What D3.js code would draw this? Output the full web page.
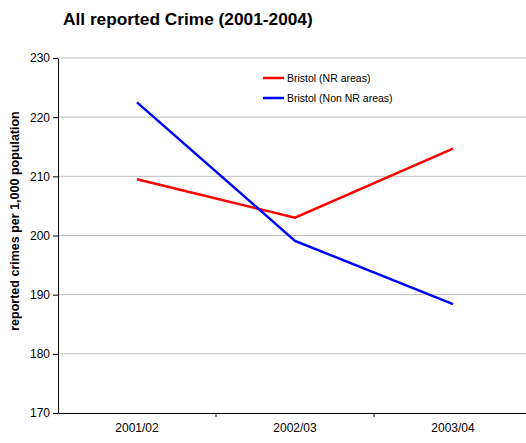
<!DOCTYPE html>
<html>
<head>
<meta charset="utf-8">
<script src="https://cdn.jsdelivr.net/npm/d3@7"></script>
<style>
  body { margin: 0; background: #fff; }
  svg { display: block; font-family: "Liberation Sans", Arial, sans-serif; }
</style>
</head>
<body>
<script>
// chart data
let years = ["2001/02", "2002/03", "2003/04"]
let nrAreas = [209.5, 203.0, 214.7]
let nonNrAreas = [222.5, 199.1, 188.4]
let yTicks = [170, 180, 190, 200, 210, 220, 230]
let seriesNames = ["Bristol (NR areas)", "Bristol (Non NR areas)"]
let seriesColors = ["#ff0000", "#0000ff"]

let width = 526
let height = 443
let plotLeft = 58
let plotTop = 58
let plotBottom = 413
let plotRight = 532

let svg = d3.select('body')
    .append('svg')
    .attr('width', width)
    .attr('height', height)

// title
svg.append('text')
    .attr('x', 63)
    .attr('y', 25)
    .style('font-size', '17.3px')
    .style('font-weight', 'bold')
    .text('All reported Crime (2001-2004)')

let xScale = d3.scaleBand()
    .domain(years)
    .range([plotLeft, plotRight])

let yScale = d3.scaleLinear()
    .domain([170, 230])
    .range([plotBottom, plotTop])

// gridlines
svg.append('g')
    .selectAll('line')
    .data(yTicks.slice(1))
    .enter()
    .append('line')
    .attr('x1', plotLeft)
    .attr('x2', plotRight)
    .attr('y1', d => yScale(d))
    .attr('y2', d => yScale(d))
    .attr('stroke', '#c0c0c0')
    .attr('stroke-width', 1)

// y axis
let yAxis = svg.append('g')
    .attr('transform', 'translate(' + plotLeft + ',0)')
    .call(d3.axisLeft(yScale).tickValues(yTicks).tickSize(5).tickPadding(3).tickSizeOuter(0))
yAxis.select('.domain').attr('stroke', '#000')
yAxis.selectAll('.tick line').attr('stroke', '#000')
yAxis.selectAll('text')
    .style('font-size', '12px')
    .attr('fill', '#000')
    .attr('font-family', '"Liberation Sans", Arial, sans-serif')

// x axis, ticks between categories
let xAxis = svg.append('g')
    .attr('transform', 'translate(0,' + plotBottom + ')')
    .call(d3.axisBottom(xScale).tickSize(0).tickPadding(10))
xAxis.select('.domain').attr('stroke', '#000')
xAxis.selectAll('text')
    .style('font-size', '12px')
    .attr('fill', '#000')
    .attr('font-family', '"Liberation Sans", Arial, sans-serif')

svg.append('g')
    .selectAll('line')
    .data(years.slice(1))
    .enter()
    .append('line')
    .attr('x1', d => xScale(d))
    .attr('x2', d => xScale(d))
    .attr('y1', plotBottom)
    .attr('y2', plotBottom + 4)
    .attr('stroke', '#000')

// y axis label
svg.append('text')
    .attr('transform', 'translate(19,221) rotate(-90)')
    .attr('text-anchor', 'middle')
    .style('font-size', '12.5px')
    .style('font-weight', 'bold')
    .text('reported crimes per 1,000 population')

// lines
let line = d3.line()
    .x((d, i) => xScale(years[i]) + xScale.bandwidth() / 2)
    .y(d => yScale(d))

let allSeries = [nrAreas, nonNrAreas]

svg.selectAll('.series')
    .data(allSeries)
    .enter()
    .append('path')
    .attr('class', 'series')
    .attr('d', d => line(d))
    .attr('fill', 'none')
    .attr('stroke', (d, i) => seriesColors[i])
    .attr('stroke-width', 2.5)

// legend
let legend = svg.append('g')
    .selectAll('g')
    .data(seriesNames)
    .enter()
    .append('g')
    .attr('transform', (d, i) => 'translate(263,' + (78 + i * 20) + ')')

legend.append('line')
    .attr('x1', 0)
    .attr('x2', 21)
    .attr('stroke', (d, i) => seriesColors[i])
    .attr('stroke-width', 2.5)

legend.append('text')
    .attr('x', 24)
    .attr('y', 4)
    .style('font-size', '10.5px')
    .text(d => d)
</script>
</body>
</html>
